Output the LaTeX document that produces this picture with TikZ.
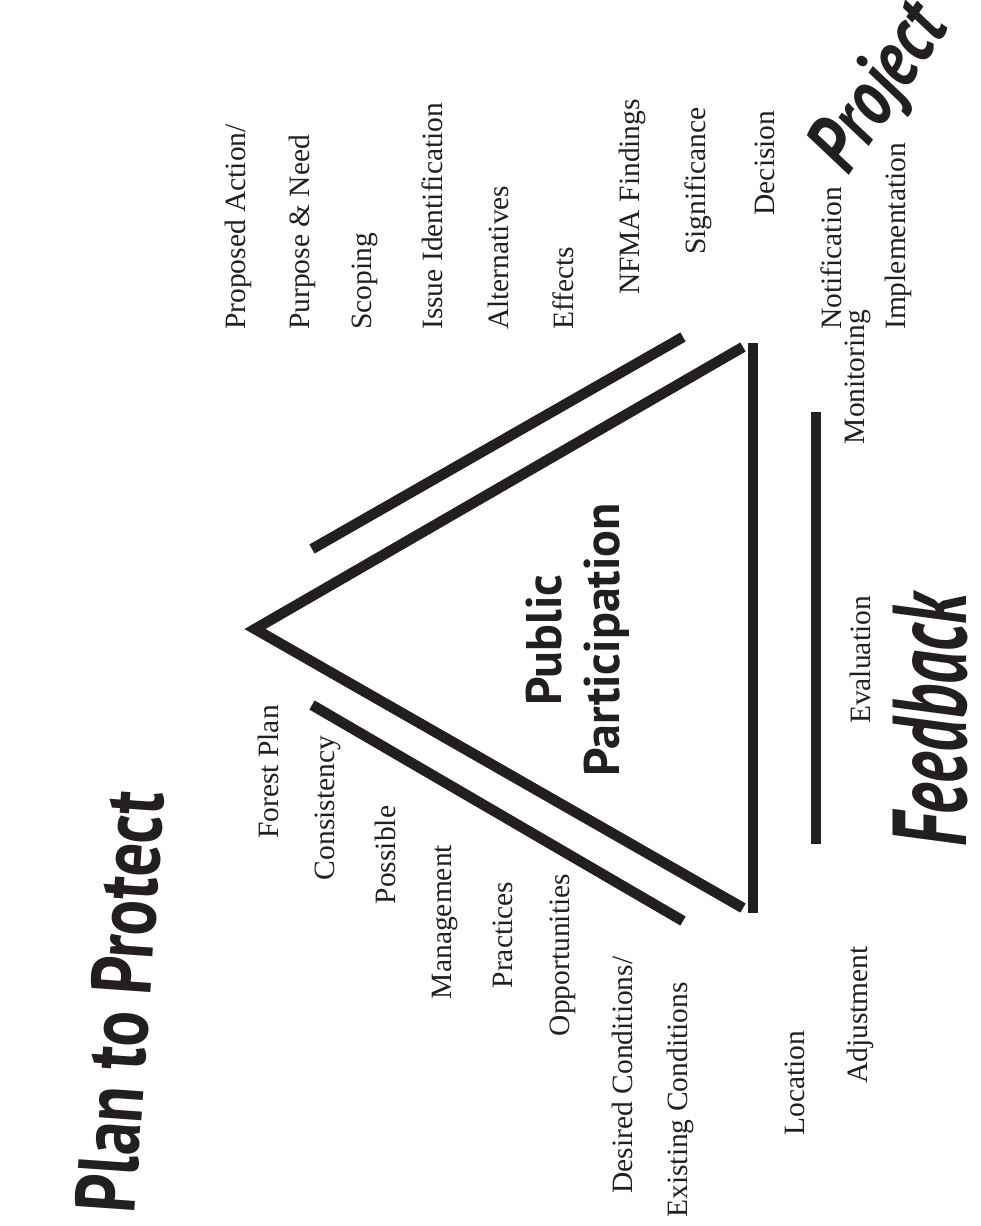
\documentclass[tikz,border=0pt]{standalone}
\usepackage{graphicx}
\usepackage{fontspec}
\setmainfont{Liberation Serif}
\newfontfamily\bigsans{PT Sans}
\definecolor{ink}{RGB}{35,31,32}
\begin{document}
\begin{tikzpicture}[x=1pt,y=-1pt,
  lbl/.style={rotate=90, font=\fontsize{29.5}{32}\selectfont, text=ink, inner sep=0pt},
  lblw/.style={lbl, anchor=west},
  bar/.style={line width=10.5pt, draw=ink, line cap=butt},
  big/.style={text=ink, inner sep=0pt},
]
\useasboundingbox (0,0) rectangle (980,1226);
\fill[white] (0,0) rectangle (980,1226);

% triangle
\coordinate (apex) at (255,629);
\coordinate (tu) at (743,347);
\coordinate (tl) at (743,908);
\coordinate (vt) at (753,343);
\coordinate (vb) at (753,913);
\coordinate (ou1) at (312,549);
\coordinate (ou2) at (683,337);
\coordinate (ol1) at (312,705);
\coordinate (ol2) at (683,921);
\coordinate (ft) at (816,412);
\coordinate (fb) at (816,844);
\draw[bar, line join=miter] (tu) -- (apex) -- (tl);
\draw[bar] (vt) -- (vb);
\draw[bar] (ou1) -- (ou2);
\draw[bar] (ol1) -- (ol2);
\draw[bar] (ft) -- (fb);

% project group
\node[lblw] (pa) at (238,330) {Proposed Action/};
\node[lblw] (pn) at (302,330) {Purpose \& Need};
\node[lblw] (sc) at (365,330) {Scoping};
\node[lblw] (ii) at (432,330) {Issue Identification};
\node[lblw] (al) at (498,330) {Alternatives};
\node[lblw] (ef) at (563,330) {Effects};
\node[lbl] (nf) at (632,197) {NFMA Findings};
\node[lbl] (sg) at (698,181) {Significance};
\node[lbl] (de) at (765,163) {Decision};
\node[lblw] (no) at (831,330) {Notification};
\node[lbl] (mo) at (858,377) {Monitoring};
\node[lblw] (im) at (898,330) {Implementation};

% plan group
\node[lbl] (fp) at (268,772) {Forest Plan};
\node[lbl] (co) at (328,808) {Consistency};
\node[lbl] (po) at (385,855) {Possible};
\node[lbl] (ma) at (445,922) {Management};
\node[lbl] (pr) at (503,935) {Practices};
\node[lbl] (op) at (563,955) {Opportunities};
\node[lbl] (dc) at (622,1075) {Desired Conditions/};
\node[lbl] (ec) at (680,1100) {Existing Conditions};

% feedback group
\node[lbl] (lo) at (795,1083) {Location};
\node[lbl] (ad) at (860,1015) {Adjustment};
\node[lbl] (ev) at (860,660) {Evaluation};

% big labels
\node[big, rotate=90, align=center, font=\bigsans\bfseries\fontsize{50}{58}\selectfont] (pp) at (578,640) {Public\\Participation};
\node[big, rotate=90, font=\bigsans\bfseries\itshape\fontsize{105}{110}\selectfont] (fbk) at (930,720) {\scalebox{0.63}[1]{Feedback}};
\node[big, rotate=56, font=\bigsans\bfseries\itshape\fontsize{82}{86}\selectfont] (prj) at (882,90) {\scalebox{0.78}[1]{Project}};
\node[big, rotate=86, font=\bigsans\bfseries\fontsize{85}{90}\selectfont] (ptp) at (120,1002) {\scalebox{0.78}[1]{Plan to Protect}};
\end{tikzpicture}
\end{document}
